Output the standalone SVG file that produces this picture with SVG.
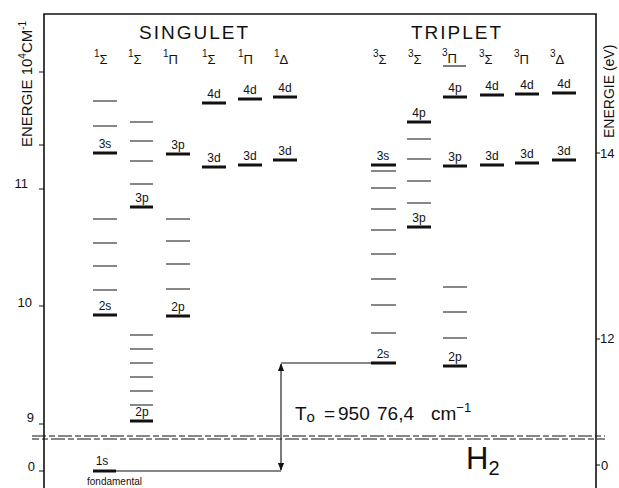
<svg xmlns="http://www.w3.org/2000/svg" width="619" height="488" viewBox="0 0 619 488">
<style>
text{font-family:"Liberation Sans","DejaVu Sans",sans-serif;fill:#111}
.ax{stroke:#111;stroke-width:1.6;fill:none}
.tk{stroke:#111;stroke-width:1.2}
.th{stroke:#111;stroke-width:1.1}
.k{stroke:#111;stroke-width:3}
.lb{font-size:12px;text-anchor:middle}
.hd{font-size:19px;letter-spacing:2px}
.sp{font-size:10px}
.sy{font-size:13px}
.num{font-size:13px}
.ds{stroke:#111;stroke-width:1.2;stroke-dasharray:14 3 6 3;fill:none}
</style>
<defs>
<marker id="ah" viewBox="0 0 10 10" refX="9" refY="5" markerWidth="7" markerHeight="7" orient="auto-start-reverse">
<path d="M0,1 L10,5 L0,9 z" fill="#111"/>
</marker>
</defs>
<rect width="619" height="488" fill="#fff"/>
<g id="frame">
<path class="ax" d="M44,488 V14 H596 V488"/>
<path class="tk" d="M39,72 H44 M39,145 H44 M39,189 H44 M39,306 H44 M39,424 H44 M39,471 H44"/>
<path class="tk" d="M596,153 H600 M596,339 H600 M596,465 H600"/>
<path class="ds" d="M32,436 H605"/>
<path class="ds" d="M32,439 H605" stroke-dashoffset="7"/>
</g>
<g id="axis-left">
<text class="num" x="28" y="188" text-anchor="end">11</text>
<text class="num" x="32" y="307" text-anchor="end">10</text>
<text class="num" x="34" y="422" text-anchor="end">9</text>
<text class="num" x="35" y="471" text-anchor="end">0</text>
<text transform="translate(32,147) rotate(-90)" font-size="15px">ENERGIE 10<tspan font-size="10px" dy="-6">4</tspan><tspan dy="6">CM</tspan><tspan font-size="10px" dy="-6">-1</tspan></text>
</g>
<g id="axis-right">
<text class="num" x="600" y="158">14</text>
<text class="num" x="600" y="343">12</text>
<text class="num" x="601" y="470">0</text>
<text transform="translate(614,138) rotate(-90)" font-size="14px">ENERGIE (eV)</text>
</g>
<g id="headers">
<text class="hd" x="139" y="39">SINGULET</text>
<text class="hd" x="411" y="39">TRIPLET</text>
<text x="94" y="64"><tspan class="sp" dy="-7">1</tspan><tspan class="sy" dy="7">Σ</tspan></text>
<text x="128" y="64"><tspan class="sp" dy="-7">1</tspan><tspan class="sy" dy="7">Σ</tspan></text>
<text x="163" y="64"><tspan class="sp" dy="-7">1</tspan><tspan class="sy" dy="7">Π</tspan></text>
<text x="202" y="64"><tspan class="sp" dy="-7">1</tspan><tspan class="sy" dy="7">Σ</tspan></text>
<text x="238" y="64"><tspan class="sp" dy="-7">1</tspan><tspan class="sy" dy="7">Π</tspan></text>
<text x="274" y="64"><tspan class="sp" dy="-7">1</tspan><tspan class="sy" dy="7">Δ</tspan></text>
<text x="373" y="64"><tspan class="sp" dy="-7">3</tspan><tspan class="sy" dy="7">Σ</tspan></text>
<text x="408" y="64"><tspan class="sp" dy="-7">3</tspan><tspan class="sy" dy="7">Σ</tspan></text>
<text x="442" y="63"><tspan class="sp" dy="-7">3</tspan><tspan class="sy" dy="7">Π</tspan></text>
<line class="th" x1="443" y1="66" x2="466" y2="66" stroke-width="2"/>
<text x="479" y="64"><tspan class="sp" dy="-7">3</tspan><tspan class="sy" dy="7">Σ</tspan></text>
<text x="514" y="64"><tspan class="sp" dy="-7">3</tspan><tspan class="sy" dy="7">Π</tspan></text>
<text x="550" y="64"><tspan class="sp" dy="-7">3</tspan><tspan class="sy" dy="7">Δ</tspan></text>
</g>
<g id="s1-sigma">
<path class="th" d="M93,101H117M93,126H117M93,219H117M93,243H117M93,266H117M93,290H117"/>
<path class="k" d="M93,153H117M93,315H117"/>
<text class="lb" x="105" y="148">3s</text>
<text class="lb" x="105" y="310">2s</text>
</g>
<g id="s2-sigma">
<path class="th" d="M130,122H153M130,141H153M130,161H153M130,184H153M130,335H153M130,349H153M130,363H153M130,377H153M130,391H153M130,405H153"/>
<path class="k" d="M130,207H153M130,421H153"/>
<text class="lb" x="142" y="202">3p</text>
<text class="lb" x="142" y="416">2p</text>
</g>
<g id="s3-pi">
<path class="th" d="M166,219H190M166,241H190M166,264H190M166,289H190"/>
<path class="k" d="M166,154H190M166,316H190"/>
<text class="lb" x="178" y="149">3p</text>
<text class="lb" x="178" y="311">2p</text>
</g>
<g id="s4-sigma">
<path class="k" d="M202,103H226M202,167H226"/>
<text class="lb" x="214" y="98">4d</text>
<text class="lb" x="214" y="162">3d</text>
</g>
<g id="s5-pi">
<path class="k" d="M238,99H262M238,165H262"/>
<text class="lb" x="250" y="94">4d</text>
<text class="lb" x="250" y="160">3d</text>
</g>
<g id="s6-delta">
<path class="k" d="M273,97H297M273,160H297"/>
<text class="lb" x="285" y="92">4d</text>
<text class="lb" x="285" y="155">3d</text>
</g>
<g id="t1-sigma">
<path class="th" d="M371,171H396M371,188H396M371,209H396M371,230H396M371,254H396M371,279H396M371,305H396M371,333H396"/>
<path class="k" d="M371,165H396M371,363H396"/>
<text class="lb" x="383" y="160">3s</text>
<text class="lb" x="383" y="358">2s</text>
</g>
<g id="t2-sigma">
<path class="th" d="M407,139H431M407,159H431M407,181H431M407,203H431"/>
<path class="k" d="M407,122H431M407,227H431"/>
<text class="lb" x="419" y="117">4p</text>
<text class="lb" x="419" y="222">3p</text>
</g>
<g id="t3-pi">
<path class="th" d="M443,287H467M443,312H467M443,338H467"/>
<path class="k" d="M443,97H467M443,166H467M443,366H467"/>
<text class="lb" x="455" y="92">4p</text>
<text class="lb" x="455" y="161">3p</text>
<text class="lb" x="455" y="361">2p</text>
</g>
<g id="t4-sigma">
<path class="k" d="M480,95H504M480,165H504"/>
<text class="lb" x="492" y="90">4d</text>
<text class="lb" x="492" y="160">3d</text>
</g>
<g id="t5-pi">
<path class="k" d="M515,94H539M515,163H539"/>
<text class="lb" x="527" y="89">4d</text>
<text class="lb" x="527" y="158">3d</text>
</g>
<g id="t6-delta">
<path class="k" d="M552,93H576M552,160H576"/>
<text class="lb" x="564" y="88">4d</text>
<text class="lb" x="564" y="155">3d</text>
</g>
<g id="ground">
<path class="k" d="M93,471H116"/>
<text class="lb" x="102" y="465">1s</text>
<text x="87" y="485" font-size="10px">fondamental</text>
</g>
<g id="connectors">
<path class="th" d="M116,471H281 M281,363H371"/>
<line class="th" x1="281" y1="417" x2="281" y2="364" marker-end="url(#ah)"/>
<line class="th" x1="281" y1="417" x2="281" y2="470" marker-end="url(#ah)"/>
</g>
<g id="labels">
<text x="295" y="420" font-size="19px">T<tspan font-size="15px" dy="2">o</tspan><tspan x="324" dy="-2">=</tspan><tspan x="338">950</tspan><tspan x="377">76,4</tspan><tspan x="431">cm</tspan><tspan font-size="13px" dy="-8">−1</tspan></text>
<text x="466" y="469" font-size="31px">H<tspan font-size="20px" dy="6">2</tspan></text>
</g>
</svg>
